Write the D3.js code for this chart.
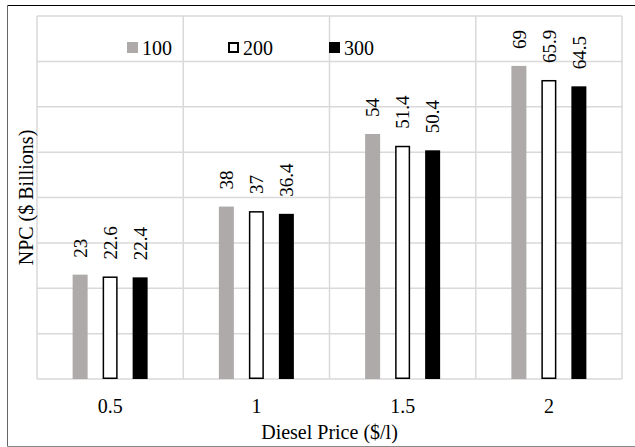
<!DOCTYPE html>
<html>
<head>
<meta charset="utf-8">
<script src="https://cdn.jsdelivr.net/npm/d3@7"></script>
<style>
  html, body { margin: 0; padding: 0; background: #fff; }
  svg { display: block; font-family: "Liberation Serif", "Times New Roman", serif; }
</style>
</head>
<body>
<svg id="chart" width="635" height="447"></svg>
<script>
const categories = ["0.5", "1", "1.5", "2"];
const seriesNames = ["100", "200", "300"];
const values100 = [23, 38, 54, 69];
const values200 = [22.6, 37, 51.4, 65.9];
const values300 = [22.4, 36.4, 50.4, 64.5];
const yTicks = [0, 10, 20, 30, 40, 50, 60, 70, 80];
const labels100 = ["23", "38", "54", "69"];
const labels200 = ["22.6", "37", "51.4", "65.9"];
const labels300 = ["22.4", "36.4", "50.4", "64.5"];

const seriesValues = [values100, values200, values300];
const seriesLabels = [labels100, labels200, labels300];
const fills = ["#aeaaaa", "#ffffff", "#000000"];
const strokes = ["none", "#000000", "none"];

const svg = d3.select("#chart");
const W = 635, H = 447;
const plot = { left: 37, right: 622, top: 16, bottom: 379 };

// frame
svg.append("line").attr("x1", 7.5).attr("x2", W).attr("y1", 5.5).attr("y2", 5.5).attr("stroke", "#000").attr("stroke-width", 1);
svg.append("line").attr("x1", 7.5).attr("x2", 7.5).attr("y1", 5.5).attr("y2", 446.5).attr("stroke", "#666").attr("stroke-width", 1);
svg.append("line").attr("x1", 7.5).attr("x2", W).attr("y1", 446.5).attr("y2", 446.5).attr("stroke", "#888").attr("stroke-width", 1);

const x0 = d3.scaleBand().domain(categories).range([plot.left, plot.right]).paddingInner(0).paddingOuter(0);
const bw = x0.bandwidth();
const x1 = d3.scaleBand().domain(seriesNames).range([bw / 2 - 45, bw / 2 + 45]).paddingInner(0.5).paddingOuter(0.25);
const y = d3.scaleLinear().domain([0, 80]).range([plot.bottom, plot.top]);

const grid = svg.append("g");
// horizontal gridlines
grid.selectAll("line.h").data(yTicks).join("line")
  .attr("class", "h")
  .attr("x1", plot.left).attr("x2", plot.right)
  .attr("y1", d => y(d)).attr("y2", d => y(d))
  .attr("stroke", "#d9d9d9").attr("stroke-width", 1.5);
// vertical gridlines at category boundaries
const vb = categories.map(c => x0(c)).concat([x0(categories[categories.length - 1]) + bw]);
grid.selectAll("line.v").data(vb).join("line")
  .attr("class", "v")
  .attr("x1", d => d).attr("x2", d => d)
  .attr("y1", plot.top).attr("y2", plot.bottom)
  .attr("stroke", "#d9d9d9").attr("stroke-width", 1.5);

// bars
seriesNames.forEach((s, si) => {
  const g = svg.append("g");
  const data = categories.map((c, ci) => ({ c, v: seriesValues[si][ci], l: seriesLabels[si][ci] }));
  const sw = strokes[si] === "none" ? 0 : 1.5;
  g.selectAll("rect").data(data).join("rect")
    .attr("x", d => x0(d.c) + x1(s) + sw / 2)
    .attr("y", d => y(d.v) + sw / 2)
    .attr("width", x1.bandwidth() - sw)
    .attr("height", d => y(0) - y(d.v) - sw)
    .attr("fill", fills[si])
    .attr("stroke", strokes[si])
    .attr("stroke-width", sw);
  g.selectAll("text").data(data).join("text")
    .attr("transform", d => `translate(${x0(d.c) + x1(s) + x1.bandwidth() / 2},${y(d.v) - 17}) rotate(-90)`)
    .attr("dy", "0.35em")
    .attr("text-anchor", "start")
    .attr("font-size", 19)
    .attr("fill", "#000")
    .text(d => d.l);
});

// x axis tick labels
const xAxis = d3.axisBottom(x0).tickSize(0).tickPadding(0);
const xg = svg.append("g").attr("transform", `translate(0,${plot.bottom})`).call(xAxis);
xg.select(".domain").remove();
xg.selectAll("text").attr("font-size", 20).attr("font-family", "Liberation Serif, Times New Roman, serif")
  .attr("fill", "#000").attr("dy", null).attr("y", 34);

// axis titles
svg.append("text").attr("x", (plot.left + plot.right) / 2).attr("y", 439)
  .attr("text-anchor", "middle").attr("font-size", 20).text("Diesel Price ($/l)");
svg.append("text").attr("transform", `translate(33,${(plot.top + plot.bottom) / 2}) rotate(-90)`)
  .attr("text-anchor", "middle").attr("font-size", 20).text("NPC ($ Billions)");

// legend
const legX = [127, 228, 329];
const leg = svg.append("g");
seriesNames.forEach((s, i) => {
  const sw = strokes[i] === "none" ? 0 : 2;
  leg.append("rect")
    .attr("x", legX[i] + sw / 2).attr("y", 42 + sw / 2)
    .attr("width", 11 - sw).attr("height", 11 - sw)
    .attr("fill", fills[i]).attr("stroke", strokes[i]).attr("stroke-width", sw);
  leg.append("text").attr("x", legX[i] + 15).attr("y", 54.5)
    .attr("font-size", 20).text(s);
});
</script>
</body>
</html>
